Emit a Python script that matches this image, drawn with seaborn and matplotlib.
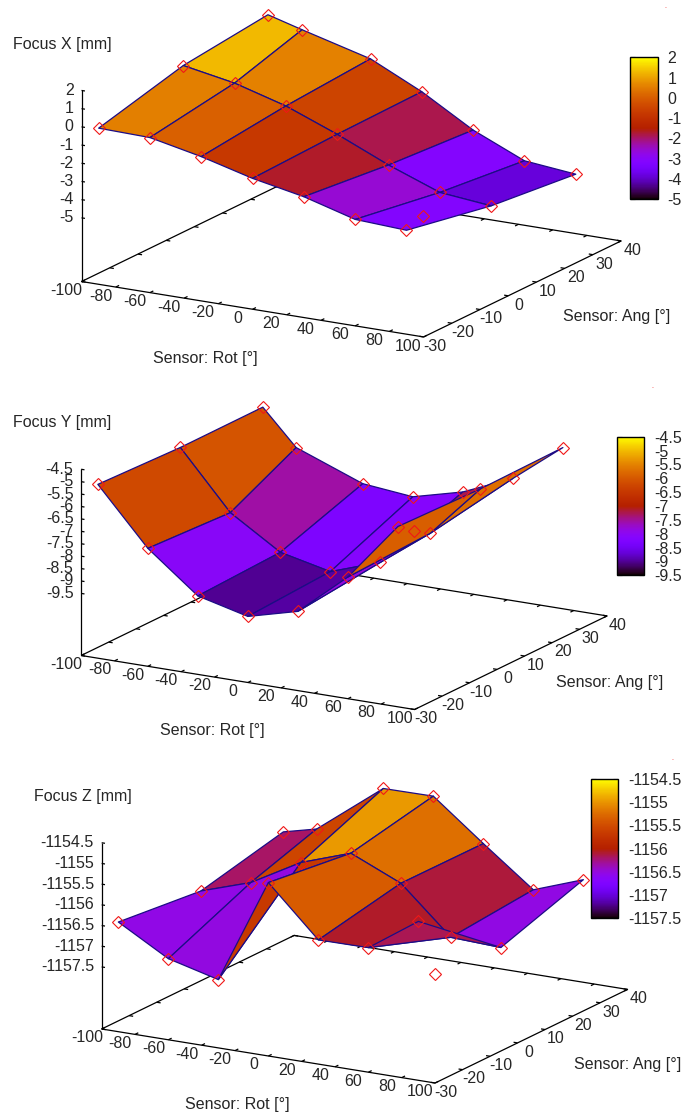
import numpy as np
import matplotlib
matplotlib.use('Agg')
import matplotlib.pyplot as plt
from matplotlib.cm import ScalarMappable
from matplotlib.colors import Normalize
import seaborn as sns

# sensor grid, rows are Ang = -30, 0, 30
ang_rows = [-30, 0, 30]
rot_front = [-90, -60, -30, 0, 30, 60, 90]
rot_mid = [-90, -60, -30, 0, 30, 60, 90]
rot_back = [-90, -70, -30, 0, 30, 60, 90]

# focus values
focus_x_front = [0.08, 0.02, -0.57, -1.31, -1.86, -2.65, -2.79]
focus_x_mid = [1.26, 0.75, -0.05, -1.15, -2.38, -3.43, -3.71]
focus_x_back = [1.79, 1.27, 0.28, -1.07, -2.72, -3.95, -4.23]

focus_y_front = [-5.00, -7.25, -8.84, -9.34, -8.81, -7.10, -4.74]
focus_y_mid = [-5.13, -7.43, -8.70, -9.15, -8.45, -6.95, -4.84]
focus_y_back = [-5.12, -6.53, -7.55, -7.75, -7.23, -6.36, -4.79]

focus_z_front = [-1156.35, -1157.04, -1157.35, -1154.81, -1156.00, -1155.99, -1155.16]
focus_z_mid = [-1156.57, -1156.17, -1155.49, -1155.07, -1155.60, -1156.71, -1156.76]
focus_z_back = [-1156.11, -1155.91, -1154.67, -1154.66, -1155.61, -1156.53, -1156.09]

# one measurement that is not part of the grid
extra_rot = 75
extra_ang = -15
extra_x = -3.37
extra_y = -5.91
extra_z = -1157.02

rot_ticks = list(range(-100, 101, 20))
ang_ticks = list(range(-30, 41, 10))
focus_x_ticks = [-5, -4, -3, -2, -1, 0, 1, 2]
focus_y_ticks = [-9.5, -9, -8.5, -8, -7.5, -7, -6.5, -6, -5.5, -5, -4.5]
focus_z_ticks = [-1157.5, -1157, -1156.5, -1156, -1155.5, -1155, -1154.5]

W, H = 682, 1115
LINE = '#1c0c86'

sns.set_theme(style='white')
plt.rcParams['font.family'] = ['Liberation Sans', 'DejaVu Sans']
plt.rcParams['axes.unicode_minus'] = False
plt.rcParams['font.size'] = 11.5
cmap = sns.color_palette('gnuplot', as_cmap=True)

fig = plt.figure(figsize=(W / 100, H / 100), dpi=100)
fig.patch.set_facecolor('white')


def draw_panel(rows, ticks, extra_val, title, title_xy, center, scale, cbar_box, rot_lab_xy, ang_lab_xy, dot_xy):
    z_lo, z_hi = ticks[0], ticks[-1]
    z_base = z_lo - 0.5 * (z_hi - z_lo)  # gnuplot ticslevel 0.5

    # square 3d axes placed so the box lands on the wanted pixels
    side = 1.4574 * scale
    left = center[0] - side * 0.5135
    bottom = H - center[1] - side * 0.5135
    ax = fig.add_axes([left / W, bottom / H, side / W, side / H], projection='3d',
                      proj_type='ortho', computed_zorder=False)
    ax.view_init(elev=16.3, azim=-60)
    ax.set_xlim(-100, 100, view_margin=0)
    ax.set_ylim(-30, 40, view_margin=0)
    ax.set_zlim(z_base, z_hi, view_margin=0)
    ax.set_box_aspect((1, 1, 0.504))
    ax.set_axis_off()
    ax.patch.set_alpha(0)

    # base frame and z axis
    frame = dict(color='black', lw=0.9, zorder=1, solid_capstyle='butt')
    ax.plot([-100, 100, 100, -100, -100], [-30, -30, 40, 40, -30], [z_base] * 5, **frame)
    ax.plot([-100, -100], [-30, -30], [z_base, z_hi], **frame)
    for t in rot_ticks:
        ax.plot([t, t], [-30, -28.8], [z_base, z_base], **frame)
        ax.plot([t, t], [40, 38.8], [z_base, z_base], **frame)
        ax.text(t + 1.5, -36.3, z_base, str(t), ha='center', va='center')
    for t in ang_ticks:
        ax.plot([100, 97.6], [t, t], [z_base, z_base], **frame)
        ax.plot([-100, -97.6], [t, t], [z_base, z_base], **frame)
        ax.text(113.4, t - 4.2, z_base, str(t), ha='center', va='center')
    for t in ticks:
        ax.plot([-100, -98], [-30, -30], [t, t], **frame)
        ax.text(-103.5, -30.7, t, f'{t:g}', ha='right', va='center')

    # surface, each quad coloured by the mean of its corners
    X = np.array([rot_front, rot_mid, rot_back], dtype=float)
    Y = np.repeat(np.array(ang_rows, dtype=float)[:, None], 7, axis=1)
    Z = np.array(rows, dtype=float)
    means = (Z[:-1, :-1] + Z[1:, :-1] + Z[:-1, 1:] + Z[1:, 1:]) / 4
    norm = Normalize(z_lo, z_hi)
    ax.plot_surface(X, Y, Z, rstride=1, cstride=1, facecolors=cmap(norm(means)),
                    shade=False, edgecolor=LINE, linewidth=0.9, antialiased=True, zorder=3)

    # measured points
    ax.plot(np.append(X.ravel(), extra_rot), np.append(Y.ravel(), extra_ang), np.append(Z.ravel(), extra_val),
            ls='none', marker='D', ms=6, mfc='none', mec='#f01818', mew=0.8, zorder=5)

    # colour box
    x0, y0, x1, y1 = cbar_box
    cax = fig.add_axes([x0 / W, 1 - y1 / H, (x1 - x0) / W, (y1 - y0) / H])
    cb = fig.colorbar(ScalarMappable(norm=norm, cmap=cmap), cax=cax, ticks=ticks, format='%g')
    cb.outline.set_edgecolor('black')
    cb.outline.set_linewidth(1.0)
    cax.yaxis.set_ticks_position('both')
    cax.tick_params(axis='y', direction='in', length=3.5, width=0.8, color='black',
                    labelleft=False, labelright=True, pad=7, labelsize=11.5)

    fig.text(title_xy[0] / W, 1 - title_xy[1] / H, title, ha='left', va='center')
    fig.text(rot_lab_xy[0] / W, 1 - rot_lab_xy[1] / H, 'Sensor: Rot [°]', ha='center', va='center')
    fig.text(ang_lab_xy[0] / W, 1 - ang_lab_xy[1] / H, 'Sensor: Ang [°]', ha='center', va='center')
    fig.text(dot_xy[0] / W, 1 - dot_xy[1] / H, '.', color='#f01818', fontsize=5, ha='center', va='center')


draw_panel([focus_x_front, focus_x_mid, focus_x_back], focus_x_ticks, extra_x, 'Focus X [mm]',
           (13, 44), (351.3, 165.7), 395, (630, 57.3, 658, 199.3), (205.5, 359), (617, 316), (665, 6))
draw_panel([focus_y_front, focus_y_mid, focus_y_back], focus_y_ticks, extra_y, 'Focus Y [mm]',
           (13, 423), (344.1, 542.6), 385, (617.4, 436.7, 644.3, 575.3), (212, 731), (610, 682), (652, 386))
draw_panel([focus_z_front, focus_z_mid, focus_z_back], focus_z_ticks, extra_z, 'Focus Z [mm]',
           (33.5, 796), (364.6, 916.1), 385, (591.3, 779, 618.3, 918.3), (237, 1104), (628, 1064), (672, 759))

plt.savefig('out.png', dpi=100)
